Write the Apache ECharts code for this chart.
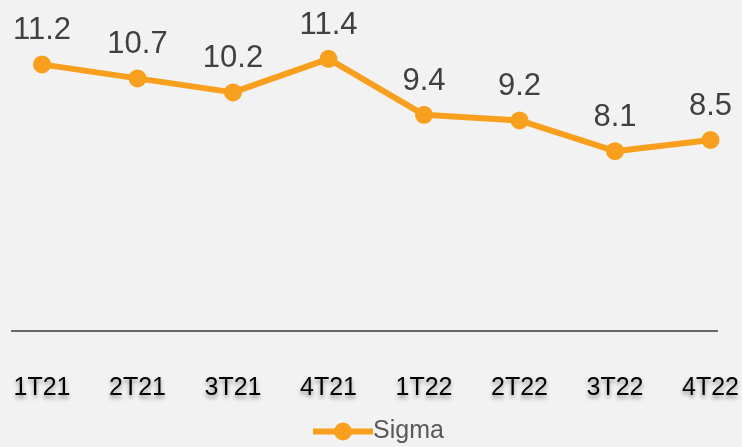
<!DOCTYPE html>
<html><head><meta charset="utf-8">
<script src="https://cdn.jsdelivr.net/npm/echarts@6/dist/echarts.min.js"></script>
<style>html,body{margin:0;padding:0;background:#f2f2f2}#c{width:742px;height:447px}</style>
</head><body><div id="c"></div>
<script>
const categories = ['1T21','2T21','3T21','4T21','1T22','2T22','3T22','4T22'];
const sigmaValues = [11.2, 10.7, 10.2, 11.4, 9.4, 9.2, 8.1, 8.5];
const seriesName = 'Sigma';
const orange = '#F89F1E';
const FONT = 'Liberation Sans, Arial, sans-serif';
const chart = echarts.init(document.getElementById('c'));
chart.setOption({
  backgroundColor: '#f2f2f2',
  animation: false,
  grid: { left: 42, right: 27, top: 42, bottom: 69 },
  xAxis: {
    type: 'category', data: categories, boundaryGap: false,
    axisLine: { show: false }, axisTick: { show: false },
    axisLabel: {
      margin: 10, verticalAlign: 'middle',
      color: '#000', fontSize: 25, fontFamily: FONT,
      textShadowColor: 'rgba(0,0,0,0.4)', textShadowBlur: 4, textShadowOffsetY: 3,
      lineHeight: 0
    }
  },
  yAxis: { type: 'value', min: 0, max: 12, show: false, splitLine: { show: false } },
  legend: {
    data: [{ name: seriesName, icon: 'path://M0,6 L60,6 L60,12 L0,12 Z M21,9 A9,9 0 1,1 39,9 A9,9 0 1,1 21,9 Z' }],
    bottom: -2, left: 308, itemWidth: 60, itemHeight: 19, itemGap: 0,
    itemStyle: { color: orange },
    textStyle: { color: '#595959', fontSize: 25, fontFamily: FONT, padding: [0,0,0,-5] }
  },
  graphic: [{
    type: 'line', shape: { x1: 11, y1: 331, x2: 718, y2: 331 },
    style: { stroke: '#3a3a3a', lineWidth: 1.5 }
  }],
  series: [{
    name: seriesName, type: 'line', data: sigmaValues,
    color: orange,
    lineStyle: { width: 6, color: orange },
    itemStyle: { color: orange },
    symbol: 'circle', symbolSize: 18, showAllSymbol: true,
    label: {
      show: true, position: 'top', distance: 9,
      color: '#404040', fontSize: 31, fontFamily: FONT,
      formatter: p => p.value.toFixed(1)
    }
  }]
});
</script></body></html>
